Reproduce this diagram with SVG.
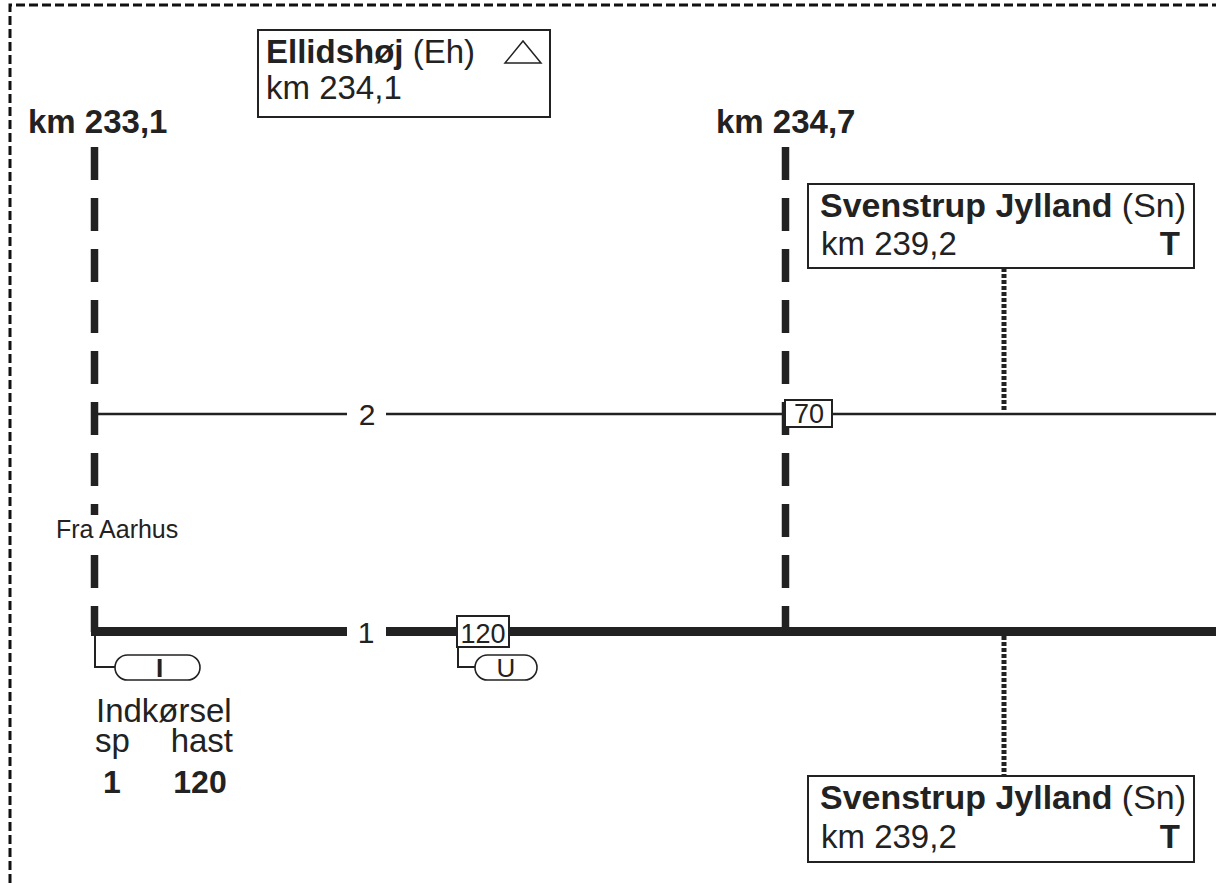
<svg xmlns="http://www.w3.org/2000/svg" width="1216" height="883" viewBox="0 0 1216 883">
<style>
text{font-family:"Liberation Sans",Arial,sans-serif;fill:#222}
.b{font-weight:bold}
.box{fill:#fff;stroke:#222;stroke-width:2}
.pill{fill:#fff;stroke:#222;stroke-width:1.6}
.km{stroke:#222;stroke-width:7.5;fill:none;stroke-dasharray:33 18}
.dot{stroke:#222;stroke-width:5;fill:none;stroke-dasharray:4 2}
.thin{stroke:#222;stroke-width:2;fill:none}
</style>
<rect width="1216" height="883" fill="#fff"/>
<path d="M10 883V5H1216" fill="none" stroke="#111" stroke-width="3" stroke-dasharray="9 4"/>
<g id="connectors">
  <path class="km" d="M94.5 147V515"/>
  <path class="km" d="M94.5 555V632"/>
  <path class="km" d="M785.5 147V632"/>
  <path d="M94 414H347M386 414H1216" stroke="#222" stroke-width="2.5" fill="none"/>
  <path d="M91 631.5H347M386 631.5H1216" stroke="#222" stroke-width="9" fill="none"/>
  <path class="dot" d="M1004 268V411"/>
  <path class="dot" d="M1004 636V776"/>
  <path class="thin" d="M95 636V667H115"/>
  <path class="thin" d="M458 648V667H475"/>
</g>
<g id="km2331"><text class="b" x="28" y="133" font-size="33">km 233,1</text></g>
<g id="km2347"><text class="b" x="716" y="133" font-size="33">km 234,7</text></g>
<g id="ellidshoj">
  <rect class="box" x="258" y="30" width="292" height="87"/>
  <text x="266" y="63" font-size="33"><tspan class="b">Ellidshøj</tspan> (Eh)</text>
  <polygon points="505,63 541,63 523,41" fill="none" stroke="#222" stroke-width="1.5"/>
  <text x="266" y="99" font-size="33">km 234,1</text>
</g>
<g id="svenstrup-top">
  <rect class="box" x="808" y="184" width="386" height="84"/>
  <text x="820" y="217" font-size="33" textLength="366" lengthAdjust="spacingAndGlyphs"><tspan class="b">Svenstrup Jylland</tspan> (Sn)</text>
  <text x="821" y="255" font-size="33">km 239,2</text>
  <text class="b" x="1180" y="255" font-size="33" text-anchor="end">T</text>
</g>
<g id="svenstrup-bottom">
  <rect class="box" x="808" y="776" width="386" height="86"/>
  <text x="820" y="809" font-size="33" textLength="366" lengthAdjust="spacingAndGlyphs"><tspan class="b">Svenstrup Jylland</tspan> (Sn)</text>
  <text x="821" y="848" font-size="33">km 239,2</text>
  <text class="b" x="1180" y="848" font-size="33" text-anchor="end">T</text>
</g>
<g id="track2-label"><text x="367" y="425" font-size="30" text-anchor="middle">2</text></g>
<g id="track1-label"><text x="366" y="643" font-size="30" text-anchor="middle">1</text></g>
<g id="fra-aarhus"><text x="56" y="538" font-size="25">Fra Aarhus</text></g>
<g id="speed70">
  <rect class="box" x="785" y="400" width="47" height="27"/>
  <text x="809" y="423" font-size="27" text-anchor="middle">70</text>
</g>
<g id="speed120">
  <rect class="box" x="457" y="616" width="52" height="31"/>
  <text x="483" y="643" font-size="27" text-anchor="middle">120</text>
</g>
<g id="pill-I">
  <rect class="pill" x="115" y="655" width="85" height="25" rx="12.5"/>
  <text class="b" x="159.5" y="677" font-size="26" text-anchor="middle">I</text>
</g>
<g id="pill-U">
  <rect class="pill" x="475" y="655" width="62" height="25" rx="12.5"/>
  <text x="506" y="677" font-size="26" text-anchor="middle">U</text>
</g>
<g id="indkorsel">
  <text x="96" y="722" font-size="33">Indkørsel</text>
  <text x="95" y="752" font-size="33">sp</text>
  <text x="233" y="752" font-size="33" text-anchor="end">hast</text>
  <text class="b" x="112" y="793" font-size="32" text-anchor="middle">1</text>
  <text class="b" x="200" y="793" font-size="32" text-anchor="middle">120</text>
</g>
</svg>
